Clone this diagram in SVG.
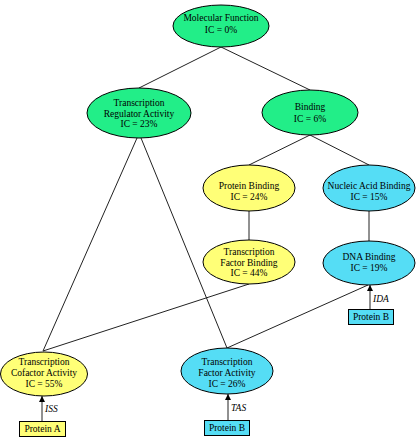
<svg xmlns="http://www.w3.org/2000/svg" width="420" height="447" viewBox="0 0 420 447">
<defs>
<marker id="ah" viewBox="0 0 6 6" refX="6" refY="3" markerWidth="6" markerHeight="6" orient="auto" markerUnits="userSpaceOnUse">
<path d="M0,0 L6,3 L0,6 z" fill="#000"/>
</marker>
<style>
.e{stroke:#000;stroke-width:1}
.g{fill:#22EE88}
.y{fill:#FFFF77}
.c{fill:#55DDF5}
.t{font-family:"Liberation Serif","Times New Roman",serif;font-size:9.5px;fill:#000;text-anchor:middle}
.l{font-family:"Liberation Serif","Times New Roman",serif;font-size:9.5px;font-style:italic;fill:#000}
.ln{stroke:#222;stroke-width:1;fill:none}
.bx{stroke:#000;stroke-width:1}
</style>
</defs>
<rect width="420" height="447" fill="#fff"/>
<g id="connectors">
<line class="ln" x1="221" y1="47" x2="139" y2="88"/>
<line class="ln" x1="221" y1="47" x2="310" y2="90"/>
<line class="ln" x1="137" y1="138" x2="43" y2="351"/>
<line class="ln" x1="141" y1="138" x2="227" y2="348"/>
<line class="ln" x1="310" y1="135" x2="249" y2="165"/>
<line class="ln" x1="310" y1="135" x2="369" y2="165"/>
<line class="ln" x1="249" y1="211" x2="249" y2="240"/>
<line class="ln" x1="369" y1="211" x2="369" y2="241"/>
<line class="ln" x1="249" y1="284" x2="43" y2="351"/>
<line class="ln" x1="368" y1="285" x2="227" y2="348"/>
<line class="ln" x1="370" y1="309" x2="370" y2="285" marker-end="url(#ah)"/>
<line class="ln" x1="42" y1="421" x2="42" y2="396" marker-end="url(#ah)"/>
<line class="ln" x1="228" y1="420" x2="228" y2="394" marker-end="url(#ah)"/>
<text class="l" x="373" y="302">IDA</text>
<text class="l" x="45" y="412">ISS</text>
<text class="l" x="231" y="411">TAS</text>
</g>
<g id="molecular-function">
<ellipse class="e g" cx="221" cy="26" rx="48" ry="21"/>
<text class="t" x="221" y="21">Molecular Function</text>
<text class="t" x="221" y="33">IC = 0%</text>
</g>
<g id="transcription-regulator">
<ellipse class="e g" cx="139" cy="113" rx="52" ry="25"/>
<text class="t" x="139" y="106">Transcription</text>
<text class="t" x="139" y="116.5">Regulator Activity</text>
<text class="t" x="139" y="127">IC = 23%</text>
</g>
<g id="binding">
<ellipse class="e g" cx="310" cy="112.5" rx="48" ry="22.5"/>
<text class="t" x="310" y="110">Binding</text>
<text class="t" x="310" y="122">IC = 6%</text>
</g>
<g id="protein-binding">
<ellipse class="e y" cx="249" cy="188" rx="46" ry="23"/>
<text class="t" x="249" y="189">Protein Binding</text>
<text class="t" x="249" y="200">IC = 24%</text>
</g>
<g id="nucleic-acid-binding">
<ellipse class="e c" cx="369" cy="188" rx="46" ry="23"/>
<text class="t" x="369" y="189">Nucleic Acid Binding</text>
<text class="t" x="369" y="200">IC = 15%</text>
</g>
<g id="tf-binding">
<ellipse class="e y" cx="249" cy="262" rx="46" ry="22"/>
<text class="t" x="249" y="255">Transcription</text>
<text class="t" x="249" y="266">Factor Binding</text>
<text class="t" x="249" y="276">IC = 44%</text>
</g>
<g id="dna-binding">
<ellipse class="e c" cx="369" cy="263" rx="46" ry="22"/>
<text class="t" x="369" y="260">DNA Binding</text>
<text class="t" x="369" y="271">IC = 19%</text>
</g>
<g id="cofactor-activity">
<ellipse class="e y" cx="44" cy="374" rx="43.5" ry="22"/>
<text class="t" x="44" y="365">Transcription</text>
<text class="t" x="44" y="376">Cofactor Activity</text>
<text class="t" x="44" y="386.5">IC = 55%</text>
</g>
<g id="tf-activity">
<ellipse class="e c" cx="227" cy="371" rx="46" ry="23"/>
<text class="t" x="227" y="365">Transcription</text>
<text class="t" x="227" y="376">Factor Activity</text>
<text class="t" x="227" y="386.5">IC = 26%</text>
</g>
<g id="protein-a">
<rect class="bx y" x="19.5" y="421.5" width="46" height="15"/>
<text class="t" x="42.5" y="432">Protein A</text>
</g>
<g id="protein-b-1">
<rect class="bx c" x="204.5" y="420.5" width="45" height="15"/>
<text class="t" x="227" y="431">Protein B</text>
</g>
<g id="protein-b-2">
<rect class="bx c" x="348.5" y="309.5" width="45" height="15"/>
<text class="t" x="371" y="320">Protein B</text>
</g>
</svg>
